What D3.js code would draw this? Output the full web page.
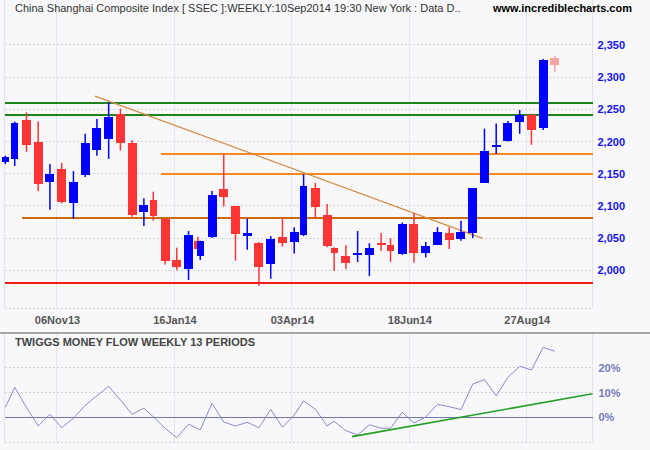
<!DOCTYPE html>
<html><head><meta charset="utf-8">
<script src="https://cdn.jsdelivr.net/npm/d3@7"></script>
<style>html,body{margin:0;padding:0;background:#f8f8fa;} svg{display:block;}</style>
</head><body><svg id="c" width="650" height="450"></svg>
<script>
// ---------- data ----------
const weekDates = ["2013-09-30","2013-10-11","2013-10-18","2013-10-25","2013-11-01","2013-11-08","2013-11-15","2013-11-22","2013-11-29","2013-12-06","2013-12-13","2013-12-20","2013-12-27","2014-01-03","2014-01-10","2014-01-17","2014-01-24","2014-01-30","2014-02-07","2014-02-14","2014-02-21","2014-02-28","2014-03-07","2014-03-14","2014-03-21","2014-03-28","2014-04-04","2014-04-11","2014-04-18","2014-04-25","2014-04-30","2014-05-09","2014-05-16","2014-05-23","2014-05-30","2014-06-06","2014-06-13","2014-06-20","2014-06-27","2014-07-04","2014-07-11","2014-07-18","2014-07-25","2014-08-01","2014-08-08","2014-08-15","2014-08-22","2014-08-29","2014-09-05","2014-09-12"];
const holidays = ["2013-10-01","2013-10-02","2013-10-03","2013-10-04","2013-10-07","2014-01-01","2014-01-31","2014-02-03","2014-02-04","2014-02-05","2014-02-06","2014-04-07","2014-05-01","2014-05-02","2014-06-02"];
const openV  = [2168,2173,2234,2199,2137,2157,2105,2148,2187,2204,2243,2198,2090,2109,2080,2016,2002,2046,2022,2051,2126,2100,2054,2042,2010,2052,2044,2055,2128,2086,2035,2022,2025,2024,2042,2039,2026,2072,2027,2040,2058,2049,2058,2136,2192,2201,2231,2241,2221,2330];
const highV  = [2178,2231,2245,2231,2165,2167,2154,2212,2235,2261,2251,2202,2112,2122,2080,2035,2061,2052,2046,2123,2180,2100,2080,2044,2053,2080,2067,2149,2136,2103,2036,2039,2061,2042,2058,2050,2074,2089,2044,2067,2067,2077,2128,2220,2228,2232,2249,2243,2328,2333];
const lowV   = [2165,2162,2184,2123,2094,2104,2080,2145,2178,2173,2186,2083,2069,2077,2009,2000,1985,2030,2016,2050,2099,2015,2032,1976,1987,2037,2026,2053,2081,2036,1999,2002,2013,1991,2030,2013,2024,2012,2020,2040,2033,2046,2050,2136,2181,2200,2212,2195,2218,2308];
const closeV = [2176,2229,2195,2134,2150,2106,2137,2198,2221,2238,2197,2086,2101,2085,2015,2005,2055,2033,2046,2117,2114,2057,2058,2005,2049,2043,2060,2131,2099,2038,2027,2012,2027,2035,2040,2030,2072,2027,2038,2060,2047,2060,2128,2185,2195,2228,2241,2218,2327,2319];
const tmfV = [4.0,12.1,4.0,-3.5,1.2,-4.2,-0.4,4.8,8.7,12.5,7.0,1.2,3.7,0.2,-4.4,-8.2,-2.8,-4.6,-5.1,5.6,-1.9,-3.5,-2.0,-4.2,3.2,-4.0,0.9,6.6,3.3,-3.5,-1.6,-5.4,-7.1,-3.0,-4.4,-4.4,2.0,-2.3,0.2,5.2,4.3,3.1,13.4,15.2,8.7,16.1,20.6,19.1,28.2,26.6];
const priceTicks = [2000,2050,2100,2150,2200,2250,2300,2350];
const tmfTicks = [0,10,20];
const tmfGrid = [-10,10,20];
const dateTicks = ["2013-11-06","2014-01-16","2014-04-03","2014-06-18","2014-08-27"];
const greenLevels = [2259.3,2240.7];
const orangeLevels = [2180,2149];
const orangeFrom = "2014-01-10";
const brownLevels = [2081];
const brownFrom = "2013-10-18";
const redLevels = [1980];
const priceTrendT = [38.2,203.2], priceTrendV = [2270.6,2049.7];
const tmfTrendT = [147.6,250], tmfTrendV = [-7.8,9.5];
const titleText = "China Shanghai Composite Index [ SSEC ]:WEEKLY:10Sep2014 19:30 New York : Data D..";
const siteText = "www.incrediblecharts.com";
const tmfTitle = "TWIGGS MONEY FLOW WEEKLY 13 PERIODS";

// ---------- trading-day axis ----------
const parse = d3.utcParse("%Y-%m-%d"), fmtKey = d3.utcFormat("%Y-%m-%d"), fmtTick = d3.utcFormat("%d%b%y");
const hol = new Set(holidays);
const isTrading = d => { const w = d.getUTCDay(); return w !== 0 && w !== 6 && !hol.has(fmtKey(d)); };
const base = parse(weekDates[0]);
function tIndex(s){ const d = parse(s); return d3.utcDay.range(d3.utcDay.offset(base,1), d3.utcDay.offset(d,1)).filter(isTrading).length; }
function daysInWeek(s){ const d = parse(s); return d3.utcDay.range(d3.utcMonday.floor(d), d3.utcDay.offset(d,1)).filter(isTrading).length; }

const L = 4.5, R = 592.5, mainBottom = 308, subTop = 334, subBottom = 442.1;
const x = d3.scaleLinear().domain([-0.35, 250]).range([L, R]);
const y = d3.scaleLinear().domain([1941.5, 2419.7]).range([mainBottom, 0]);
const y2 = d3.scaleLinear().domain([-10, 33.6]).range([subBottom, subTop]);

const bars = weekDates.map((d,i)=>({t:tIndex(d), n:daysInWeek(d), o:openV[i], h:highV[i], l:lowV[i], c:closeV[i], m:tmfV[i], last:i===weekDates.length-1}));

const svg = d3.select("#c");
svg.append("rect").attr("width",650).attr("height",450).attr("fill","#f8f8fa");
const font = "'Liberation Sans', Arial, sans-serif";

// ---------- grids ----------
const g = svg.append("g").attr("shape-rendering","crispEdges");
dateTicks.forEach(d=>{
  const xx = x(tIndex(d));
  g.append("line").attr("x1",xx).attr("x2",xx).attr("y1",0).attr("y2",mainBottom).attr("stroke","#e6e6ec");
  g.append("line").attr("x1",xx).attr("x2",xx).attr("y1",subTop).attr("y2",subBottom).attr("stroke","#e6e6ec");
});
[L,R].forEach(xx=>{
  g.append("line").attr("x1",xx).attr("x2",xx).attr("y1",0).attr("y2",mainBottom).attr("stroke","#e2e2e8");
  g.append("line").attr("x1",xx).attr("x2",xx).attr("y1",subTop).attr("y2",subBottom).attr("stroke","#e2e2e8");
});
priceTicks.forEach(v=>{
  g.append("line").attr("x1",L).attr("x2",R).attr("y1",y(v)).attr("y2",y(v)).attr("stroke","#d4d4d8").attr("stroke-dasharray","2,2");
});
g.append("line").attr("x1",L).attr("x2",R).attr("y1",mainBottom).attr("y2",mainBottom).attr("stroke","#d4d4d8").attr("stroke-dasharray","2,2");
tmfGrid.forEach(v=>{
  g.append("line").attr("x1",L).attr("x2",R).attr("y1",y2(v)).attr("y2",y2(v)).attr("stroke","#d4d4d8").attr("stroke-dasharray","2,2");
});
// separator
svg.append("line").attr("x1",0).attr("x2",650).attr("y1",333).attr("y2",333).attr("stroke","#a8a8a8").attr("stroke-width",2);

// ---------- level lines ----------
const lv = svg.append("g").attr("shape-rendering","crispEdges");
const level = (v, x1, col) => lv.append("line").attr("x1",x1).attr("x2",R).attr("y1",Math.round(y(v))).attr("y2",Math.round(y(v))).attr("stroke",col).attr("stroke-width",2);
greenLevels.forEach(v=>level(v, L, "#1f821f"));
orangeLevels.forEach(v=>level(v, x(tIndex(orangeFrom))-4.5, "#f7891f"));
brownLevels.forEach(v=>level(v, x(tIndex(brownFrom))-4, "#cc6a10"));
redLevels.forEach(v=>level(v, L, "#ee1c1c"));

// trendline
svg.append("line").attr("x1",x(priceTrendT[0])).attr("y1",y(priceTrendV[0])).attr("x2",x(priceTrendT[1])).attr("y2",y(priceTrendV[1]))
  .attr("stroke","#d58c45").attr("stroke-width",1.3);

// ---------- candles ----------
const cg = svg.append("g");
bars.forEach(b=>{
  const col = b.last ? "#f7a4a4" : (b.c >= b.o ? "#0000ff" : "#ff3535");
  const cx = x(b.t);
  const w = b.n >= 5 ? 9 : 7;
  cg.append("line").attr("x1",cx).attr("x2",cx).attr("y1",y(b.h)).attr("y2",y(b.l)).attr("stroke",col).attr("stroke-width",1.5);
  const top = y(Math.max(b.o,b.c)), bot = y(Math.min(b.o,b.c));
  cg.append("rect").attr("x",Math.round(cx - w/2)).attr("y",top).attr("width",w).attr("height",Math.max(2,bot-top))
    .attr("fill",col).attr("shape-rendering","crispEdges");
});

// ---------- TMF panel ----------
svg.append("line").attr("x1",L).attr("x2",R).attr("y1",y2(0)).attr("y2",y2(0)).attr("stroke","#7272b4").attr("stroke-width",1.6).attr("shape-rendering","crispEdges");
svg.append("path").datum(bars).attr("fill","none").attr("stroke","#8a8ad0").attr("stroke-width",1)
  .attr("d", d3.line().x(b=>x(b.t)).y(b=>y2(b.m)));
svg.append("line").attr("x1",x(tmfTrendT[0])).attr("y1",y2(tmfTrendV[0])).attr("x2",x(tmfTrendT[1])).attr("y2",y2(tmfTrendV[1]))
  .attr("stroke","#23a023").attr("stroke-width",1.6);

// ---------- axes ----------
const ya = svg.append("g").attr("transform",`translate(${R},0)`)
  .call(d3.axisRight(y).tickValues(priceTicks).tickSize(0).tickPadding(5).tickFormat(d3.format(",")));
ya.select(".domain").remove();
ya.selectAll("text").attr("font-family",font).attr("font-size",11).attr("font-weight","bold").attr("fill","#1414e6");

const y2a = svg.append("g").attr("transform",`translate(${R},0)`)
  .call(d3.axisRight(y2).tickValues(tmfTicks).tickSize(0).tickPadding(6).tickFormat(d=>d+"%"));
y2a.select(".domain").remove();
y2a.selectAll("text").attr("font-family",font).attr("font-size",11).attr("font-weight","bold").attr("fill","#7878bc");

const xa = svg.append("g").attr("transform",`translate(0,${mainBottom})`)
  .call(d3.axisBottom(x).tickValues(dateTicks.map(tIndex)).tickSize(0).tickPadding(8).tickFormat((d,i)=>fmtTick(parse(dateTicks[i]))));
xa.select(".domain").remove();
xa.selectAll("text").attr("font-family",font).attr("font-size",11).attr("font-weight","bold").attr("fill","#555");

// ---------- titles ----------
svg.append("text").attr("x",15).attr("y",11.5).attr("font-family",font).attr("font-size",11).attr("fill","#333").text(titleText);
svg.append("text").attr("x",493).attr("y",11.5).attr("font-family",font).attr("font-size",11).attr("font-weight","bold").attr("fill","#000").text(siteText);
svg.append("text").attr("x",15).attr("y",345.5).attr("font-family",font).attr("font-size",11).attr("font-weight","bold").attr("fill","#444").text(tmfTitle);
</script>
</body></html>
